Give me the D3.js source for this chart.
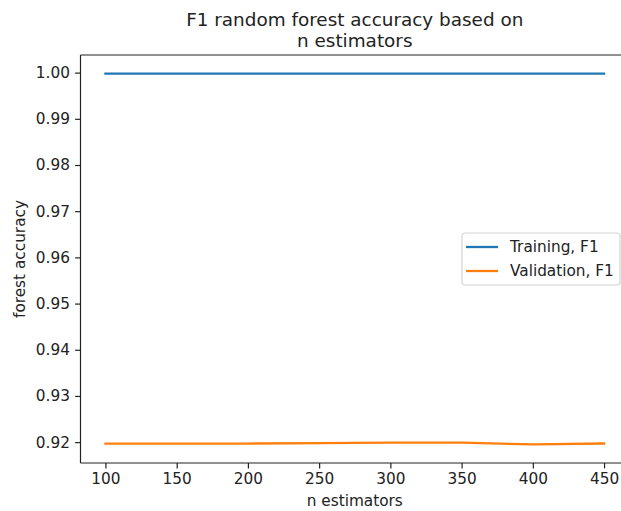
<!DOCTYPE html>
<html>
<head>
<meta charset="utf-8">
<script src="https://cdn.jsdelivr.net/npm/d3@7"></script>
<style>
  html, body { margin: 0; padding: 0; background: #fff; }
  svg { display: block; font-family: "DejaVu Sans", sans-serif; }
</style>
</head>
<body>
<svg id="chart" width="621" height="511"></svg>
<script>
// Number of trees in the forest
const nEstimators = [100, 150, 200, 250, 300, 350, 400, 450];
// F1 scores on the training set
const trainingF1 = [0.9998, 0.9998, 0.9998, 0.9998, 0.9998, 0.9998, 0.9998, 0.9998];
// F1 scores on the validation set
const validationF1 = [0.9197, 0.9197, 0.9197, 0.9198, 0.9199, 0.9199, 0.9195, 0.9197];
const xTicks = [100, 150, 200, 250, 300, 350, 400, 450];
const yTicks = [0.92, 0.93, 0.94, 0.95, 0.96, 0.97, 0.98, 0.99, 1.00];
const seriesNames = ["Training, F1", "Validation, F1"];
const seriesColors = ["#1f77b4", "#ff7f0e"];

const svg = d3.select("#chart");
const margin = { left: 80.5, right: 629, top: 55, bottom: 463 };
const textColor = "#222";
const tickFont = 15.3;

// Matplotlib-style 5% margins around the data range
function padded(lo, hi) {
  const p = (hi - lo) * 0.05;
  return [lo - p, hi + p];
}
const xDom = padded(d3.min(nEstimators), d3.max(nEstimators));
const allY = trainingF1.concat(validationF1);
const yDom = padded(d3.min(allY), d3.max(allY));

const x = d3.scaleLinear().domain(xDom).range([margin.left, margin.right]);
const y = d3.scaleLinear().domain(yDom).range([margin.bottom, margin.top]);

// Lines
const line = d3.line()
  .x((d, i) => x(nEstimators[i]))
  .y(d => y(d));

[trainingF1, validationF1].forEach((series, k) => {
  svg.append("path")
    .datum(series)
    .attr("fill", "none")
    .attr("stroke", seriesColors[k])
    .attr("stroke-width", 2.3)
    .attr("stroke-linejoin", "round")
    .attr("stroke-linecap", "square")
    .attr("d", line);
});

// Axes
const xAxis = d3.axisBottom(x).tickValues(xTicks).tickSize(5.4).tickPadding(5.2)
  .tickFormat(d3.format("d"));
const yAxis = d3.axisLeft(y).tickValues(yTicks).tickSize(5.4).tickPadding(5.2)
  .tickFormat(d3.format(".2f"));

const gx = svg.append("g").attr("transform", `translate(0,${margin.bottom})`).call(xAxis);
const gy = svg.append("g").attr("transform", `translate(${margin.left},0)`).call(yAxis);

[gx, gy].forEach(g => {
  g.select(".domain").remove();
  g.selectAll(".tick line").attr("stroke", textColor).attr("stroke-width", 1.2);
  g.selectAll(".tick text")
    .attr("fill", textColor)
    .style("font-family", "DejaVu Sans")
    .style("font-size", tickFont + "px");
});

// Spines
const spine = svg.append("g").attr("stroke", textColor).attr("stroke-width", 1.2).attr("fill", "none");
spine.append("line").attr("x1", margin.left).attr("x2", margin.left).attr("y1", margin.top).attr("y2", margin.bottom);
spine.append("line").attr("x1", margin.left).attr("x2", margin.right).attr("y1", margin.bottom).attr("y2", margin.bottom);
spine.append("line").attr("x1", margin.left).attr("x2", margin.right).attr("y1", margin.top).attr("y2", margin.top);
spine.append("line").attr("x1", margin.right).attr("x2", margin.right).attr("y1", margin.top).attr("y2", margin.bottom);

// Title
const cx = (margin.left + margin.right) / 2;
const title = svg.append("text")
  .attr("x", cx).attr("text-anchor", "middle")
  .attr("fill", textColor).style("font-size", "18.4px");
title.append("tspan").attr("x", cx).attr("y", 26).text("F1 random forest accuracy based on");
title.append("tspan").attr("x", cx).attr("y", 47).text("n estimators");

// Axis labels
svg.append("text")
  .attr("x", cx).attr("y", 506)
  .attr("text-anchor", "middle").attr("fill", textColor)
  .style("font-size", tickFont + "px")
  .text("n estimators");

svg.append("text")
  .attr("transform", `translate(25,${(margin.top + margin.bottom) / 2}) rotate(-90)`)
  .attr("text-anchor", "middle").attr("fill", textColor)
  .style("font-size", tickFont + "px")
  .text("forest accuracy");

// Legend
const lg = svg.append("g").attr("transform", "translate(462,233)");
lg.append("rect")
  .attr("width", 158).attr("height", 52).attr("rx", 3)
  .attr("fill", "#fff").attr("fill-opacity", 0.8)
  .attr("stroke", "#d4d4d4").attr("stroke-width", 1.2);
seriesNames.forEach((name, i) => {
  const yy = 14 + i * 24;
  lg.append("line")
    .attr("x1", 4).attr("x2", 36).attr("y1", yy).attr("y2", yy)
    .attr("stroke", seriesColors[i]).attr("stroke-width", 2.3);
  lg.append("text")
    .attr("x", 48).attr("y", yy + 5.3)
    .attr("fill", textColor).style("font-size", tickFont + "px")
    .text(name);
});
</script>
</body>
</html>
